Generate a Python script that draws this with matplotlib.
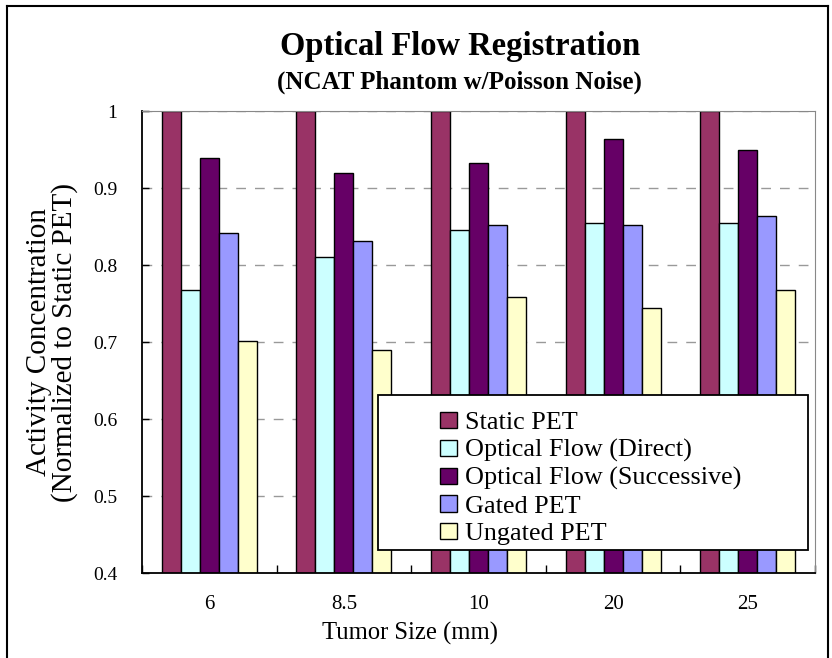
import matplotlib
matplotlib.use("Agg")
import matplotlib.pyplot as plt
import numpy as np
from matplotlib.patches import Rectangle
from matplotlib.lines import Line2D

plt.rcParams['font.family'] = ['Liberation Serif', 'DejaVu Serif']

# Data
sizes = ['6', '8.5', '10', '20', '25']
series_names = ['Static PET', 'Optical Flow (Direct)', 'Optical Flow (Successive)',
                'Gated PET', 'Ungated PET']
static_pet = [1.0, 1.0, 1.0, 1.0, 1.0]
flow_direct = [0.768, 0.810, 0.845, 0.855, 0.855]
flow_successive = [0.939, 0.920, 0.932, 0.964, 0.950]
gated_pet = [0.842, 0.831, 0.852, 0.852, 0.863]
ungated_pet = [0.701, 0.690, 0.758, 0.744, 0.767]
y_ticks = [0.4, 0.5, 0.6, 0.7, 0.8, 0.9, 1.0]
y_tick_labels = ['0.4', '0.5', '0.6', '0.7', '0.8', '0.9', '1']

colors = ['#993366', '#CCFFFF', '#660066', '#9999FF', '#FFFFCC']
series = [static_pet, flow_direct, flow_successive, gated_pet, ungated_pet]

W, H = 832, 658
fig = plt.figure(figsize=(W / 100, H / 100), dpi=100)
fig.patch.set_facecolor('white')

ax_l, ax_r, ax_t, ax_b = 142, 815, 111, 573
ax = fig.add_axes([ax_l / W, 1 - ax_b / H, (ax_r - ax_l) / W, (ax_b - ax_t) / H])

x = np.arange(len(sizes))
bw = 0.1412
for i, (vals, col, name) in enumerate(zip(series, colors, series_names)):
    ax.bar(x + (i - 2) * bw, vals, width=bw, color=col, edgecolor='black',
           linewidth=1.0, label=name, zorder=2)

ax.set_xlim(-0.5, len(sizes) - 0.5)
ax.set_ylim(0.4, 1.0)

# Axes frame
ax.spines['left'].set_color('black')
ax.spines['bottom'].set_color('black')
ax.spines['left'].set_linewidth(1.3)
ax.spines['bottom'].set_linewidth(1.3)
ax.spines['top'].set_color('#888888')
ax.spines['right'].set_color('#888888')

# Dashed horizontal grid
ax.set_yticks(y_ticks)
ax.set_yticklabels(y_tick_labels, fontsize=14)
ax.yaxis.grid(True, color='#999999', linestyle=(0, (7, 6.5)), linewidth=1.0)
ax.set_axisbelow(True)
ax.tick_params(axis='y', direction='in', length=5, width=1, color='black', pad=18)

# Category labels with tick marks between categories
ax.set_xticks(x)
ax.set_xticklabels(sizes, fontsize=15)
ax.set_xticks(np.arange(-0.5, len(sizes)), minor=True)
ax.tick_params(axis='x', which='major', length=0, pad=16)
ax.tick_params(axis='x', which='minor', direction='in', length=6, width=1, color='black')

# Legend box
lx0, lx1, ly0, ly1 = 378, 808, 395, 550
ax.add_patch(Rectangle(((lx0 - ax_l) / (ax_r - ax_l), (ax_b - ly1) / (ax_b - ax_t)),
                       (lx1 - lx0) / (ax_r - ax_l), (ly1 - ly0) / (ax_b - ax_t),
                       transform=ax.transAxes, facecolor='white', edgecolor='black',
                       linewidth=1.3, zorder=4, clip_on=False))
leg = ax.legend(loc='upper left', bbox_to_anchor=(440 / W, 1 - 412 / H),
                bbox_transform=fig.transFigure, frameon=False, fontsize=18.8,
                handlelength=0.65, handleheight=0.58, handletextpad=0.3,
                labelspacing=0.19, borderpad=0, borderaxespad=0)
leg.set_zorder(5)

# Titles and axis labels
fig.text(460 / W, 1 - 46 / H, 'Optical Flow Registration', ha='center', va='center',
         fontsize=23.5, fontweight='bold')
fig.text(459 / W, 1 - 82 / H, '(NCAT Phantom w/Poisson Noise)', ha='center', va='center',
         fontsize=18, fontweight='bold')
fig.text(52 / W, 1 - 342 / H, 'Activity Concentration\n(Normalized to Static PET)',
         ha='center', va='center', rotation=90, fontsize=21, linespacing=0.95)
fig.text(410 / W, 1 - 633 / H, 'Tumor Size (mm)', ha='center', va='center', fontsize=17.7)

# Outer border of the chart area
for xs, ys in [([7, 7], [6, H + 5]), ([7, 828], [6, 6]), ([828, 828], [6, H + 5])]:
    fig.add_artist(Line2D([v / W for v in xs], [1 - v / H for v in ys],
                          transform=fig.transFigure, color='black', linewidth=1.5))

fig.savefig('out.png', dpi=100)
